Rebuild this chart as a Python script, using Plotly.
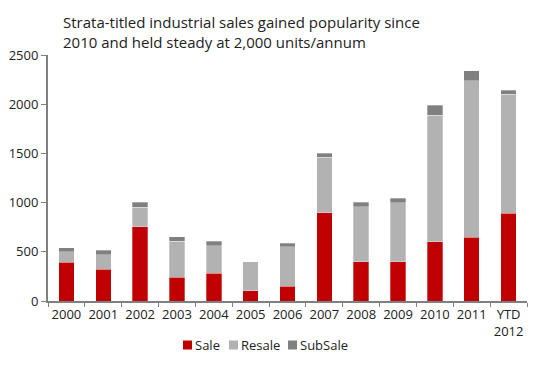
import plotly.graph_objects as go

years = ["2000", "2001", "2002", "2003", "2004", "2005", "2006",
         "2007", "2008", "2009", "2010", "2011", "YTD<br>2012"]
sale = [395, 325, 755, 240, 280, 105, 150, 895, 400, 400, 600, 650, 890]
resale = [105, 145, 200, 365, 280, 295, 400, 565, 560, 600, 1290, 1590, 1210]
subsale = [40, 45, 50, 50, 45, 0, 35, 40, 45, 45, 100, 100, 40]

series = [("Sale", sale, "#C00000"),
          ("Resale", resale, "#B2B2B2"),
          ("SubSale", subsale, "#808080")]

font = "Open Sans, Noto Sans, sans-serif"
W, H = 552, 372
L, R, T, B = 48, 25, 55, 71

fig = go.Figure()
for name, vals, col in series:
    fig.add_trace(go.Bar(x=years, y=vals, name=name, showlegend=False,
                         marker=dict(color=col, line=dict(color="rgba(255,255,255,0.5)", width=0.6))))

# manual legend (compact, like the reference)
legend_x = [183, 229, 288]   # pixel x of the legend squares
legend_y = 345
shapes, annots = [], []
pw, ph = W - L - R, H - T - B
for (name, vals, col), px in zip(series, legend_x):
    x0 = (px - L) / pw
    x1 = (px + 9 - L) / pw
    y0 = (H - B - (legend_y + 4.5)) / ph
    y1 = (H - B - (legend_y - 4.5)) / ph
    shapes.append(dict(type="rect", xref="paper", yref="paper", x0=x0, x1=x1, y0=y0, y1=y1,
                       fillcolor=col, line=dict(width=0)))
    annots.append(dict(text=name, xref="paper", yref="paper", x=(px + 10 - L) / pw,
                       y=(H - B - legend_y) / ph, xanchor="left", yanchor="middle",
                       showarrow=False, font=dict(size=13, color="#222222", family=font)))

fig.update_layout(
    barmode="stack",
    bargap=0.58,
    width=W, height=H,
    margin=dict(l=L, r=R, t=T, b=B),
    paper_bgcolor="white", plot_bgcolor="white",
    font=dict(family=font, size=13, color="#222222"),
    title=dict(text="Strata-titled industrial sales gained popularity since<br>2010 and held steady at 2,000 units/annum",
               xref="container", yref="container",
               x=63 / W, xanchor="left", y=1 - 28 / H, yanchor="top",
               pad=dict(l=0, t=0, b=0, r=0),
               font=dict(size=15, color="#222222", family=font)),
    showlegend=False,
    shapes=shapes,
    annotations=annots,
)
fig.update_xaxes(type="category", showline=True, linecolor="#808080", linewidth=2,
                 ticks="outside", tickson="boundaries", ticklen=4, tickcolor="#808080",
                 showgrid=False, tickfont=dict(size=13), tickangle=0, automargin=False)
fig.update_yaxes(range=[0, 2500], dtick=500, showline=True, linecolor="#808080", linewidth=2,
                 ticks="outside", ticklen=5, tickcolor="#808080", showgrid=False,
                 zeroline=False, tickfont=dict(size=13), automargin=False)

fig.write_html("out.html", config={"displayModeBar": False},
               post_script="document.body.style.margin='0';document.body.style.overflow='hidden';")
